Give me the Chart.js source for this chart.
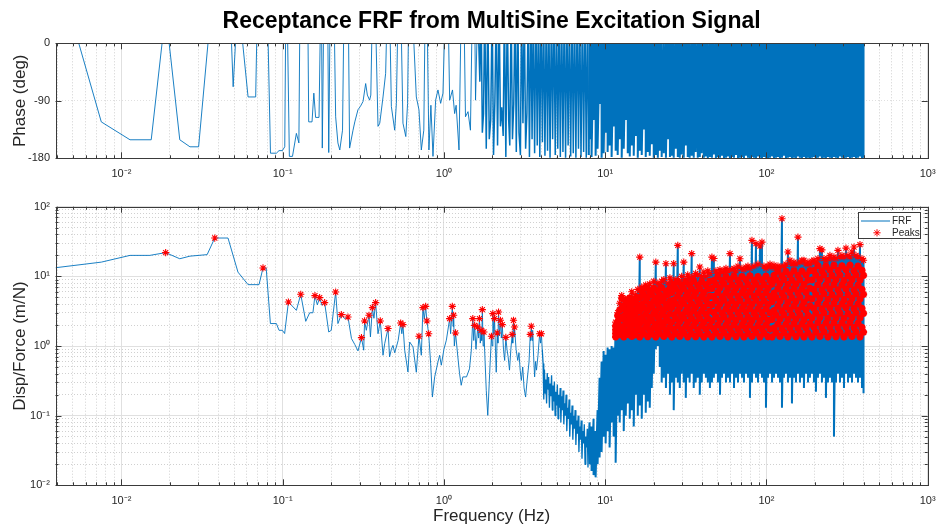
<!DOCTYPE html>
<html>
<head>
<meta charset="utf-8">
<title>Receptance FRF</title>
<script src="https://cdn.jsdelivr.net/npm/chart.js@4.4.1/dist/chart.umd.min.js"></script>
<style>
  html, body { margin: 0; padding: 0; background: #fff; }
  #wrap { position: relative; width: 936px; height: 531px; overflow: hidden; }
  canvas { position: absolute; left: 0; }
  #phaseChart { top: 0; }
  #magChart { top: 190px; }
</style>
</head>
<body>
<div id="wrap">
  <canvas id="phaseChart" width="936" height="190"></canvas>
  <canvas id="magChart" width="936" height="341"></canvas>
</div>
<script>
// ---------------------------------------------------------
// DATA
// ---------------------------------------------------------
const FREQ_MIN = 0.0039;
const FREQ_MAX = 1000;
const PEAK_MIN = 1.3;          // findpeaks height threshold (m/N)

const tickMantissas = [1, 2, 3, 4, 5, 6, 7, 8, 9];
const freqDecades = [0.001, 0.01, 0.1, 1, 10, 100];
const magDecades = [0.01, 0.1, 1, 10];
const phaseTicks = [-180, -90, 0];
const decadeValues = [0.01, 0.1, 1, 10, 100, 1000];
const decadeLabels = ['10⁻²', '10⁻¹', '10⁰', '10¹', '10²', '10³'];

// phase below 1.6 Hz [Hz, deg] (wraps above 0 are clipped)
const phaseSweep = [
  [0.0039,127],[0.0075,-123],[0.0113,-151],[0.0153,-151],[0.0188,50],[0.023,-151],[0.0266,-162],
  [0.0301,-162],[0.0379,117],[0.0458,145],[0.0493,-68],[0.0528,74],[0.061,-84],[0.068,-84],
  [0.0705,130],[0.0794,120],[0.084,-172],[0.0914,-172],[0.0949,-168],[0.0995,-168],[0.103,-162],
  [0.1046,60],[0.1065,60],[0.110,-177],[0.115,-177],[0.1216,-141],[0.126,-156],[0.128,60],
  [0.143,60],[0.145,-123],[0.152,-123],[0.156,-78],[0.16,-116],[0.168,-116],[0.172,60],[0.174,60],
  [0.176,-164],[0.18,60],[0.19,60],[0.193,-171],[0.197,60],[0.208,60],[0.213,-115],[0.22,-156],
  [0.226,-167],[0.235,-136],[0.24,60],[0.255,60],[0.26,-164],[0.273,-136],[0.28,-123],[0.293,-104],
  [0.303,-99],[0.315,-91],[0.327,-63],[0.335,-81],[0.346,-89],[0.352,-81],[0.36,60],[0.375,60],
  [0.39,-130],[0.40,-125],[0.419,-84],[0.435,-47],[0.445,60],[0.46,60],[0.472,-99],[0.495,-136],
  [0.507,-94],[0.52,60],[0.54,60],[0.557,-125],[0.58,-146],[0.595,-94],[0.605,60],[0.635,60],
  [0.674,-84],[0.70,-104],[0.724,-167],[0.75,-136],[0.765,60],[0.785,60],[0.807,-167],[0.83,-97],
  [0.855,-177],[0.888,-89],[0.918,-73],[0.954,-94],[0.986,-78],[1.02,60],[1.06,60],[1.085,-89],
  [1.13,-73],[1.165,-110],[1.19,-97],[1.24,-167],[1.28,60],[1.33,60],[1.36,-115],[1.41,-107],
  [1.46,-136],[1.50,60],[1.55,60],[1.57,-89],[1.62,60]
];
// phase 1.6-8 Hz, denser wrapping
const phaseMid = [
  [1.67,-60],[1.70,60],[1.73,-140],[1.76,-110],[1.79,60],[1.83,-165],[1.87,60],[1.91,-150],
  [1.95,-120],[1.99,60],[2.03,-175],[2.07,-90],[2.11,60],[2.15,-160],[2.2,60],[2.24,-130],
  [2.28,-100],[2.33,-145],[2.37,60],[2.42,-178],[2.47,60],[2.52,-120],[2.56,-160],[2.61,60],
  [2.66,-150],[2.71,-95],[2.76,60],[2.81,-170],[2.87,60],[2.92,-140],[2.98,-175],[3.03,60],
  [3.09,-125],[3.15,60],[3.21,-165],[3.27,-110],[3.33,60],[3.39,-178],[3.46,60],[3.52,-150],
  [3.58,60],[3.65,-172],[3.72,60],[3.79,-160],[3.86,60],[3.93,-178],[4.0,60],[4.08,-155],
  [4.15,60],[4.23,-176],[4.31,60],[4.39,-168],[4.47,60],[4.55,-179],[4.64,60],[4.72,-150],
  [4.81,60],[4.9,-175],[4.99,60],[5.08,-165],[5.18,60],[5.27,-178],[5.37,60],[5.47,-170],
  [5.57,60],[5.68,-179],[5.78,60],[5.89,-160],[6.0,60],[6.11,-177],[6.23,60],[6.34,-172],
  [6.46,60],[6.58,-179],[6.7,60],[6.83,-165],[6.95,60],[7.08,-178],[7.22,60],[7.35,-170],
  [7.49,60],[7.63,-179],[7.77,60],[7.9,-175]
];

// receptance magnitude below 4.1 Hz [Hz, m/N]
const magSweep = [
  [0.0039,13.3],[0.0075,16.0],[0.0113,20.0],[0.015,20.0],[0.0188,21.9],[0.023,17.9],[0.0266,19.5],
  [0.034,20.5],[0.0379,35.5],[0.0458,35.5],[0.0528,11.5],[0.061,7.6],[0.0713,7.6],[0.0755,13.2],
  [0.079,13.2],[0.0839,2.1],[0.0914,2.1],[0.0949,1.68],[0.0995,1.68],[0.1028,1.51],[0.1085,4.28],
  [0.1216,3.25],[0.1294,5.52],[0.139,2.26],[0.147,3.0],[0.154,3.0],[0.1585,5.29],[0.164,3.9],
  [0.1695,4.95],[0.175,3.84],[0.182,4.2],[0.193,1.59],[0.2,1.68],[0.213,5.96],[0.22,2.1],
  [0.231,2.82],[0.242,2.47],[0.254,2.61],[0.267,1.28],[0.28,1.05],[0.293,0.85],[0.308,1.32],
  [0.318,0.87],[0.322,2.29],[0.33,1.68],[0.343,2.76],[0.35,1.35],[0.36,3.56],[0.368,2.5],
  [0.377,4.2],[0.39,1.5],[0.403,2.29],[0.419,0.736],[0.429,1.08],[0.45,1.78],[0.46,0.695],
  [0.472,0.9],[0.483,1.02],[0.495,0.8],[0.507,0.97],[0.52,1.2],[0.539,2.14],[0.548,1.5],
  [0.557,2.03],[0.571,0.87],[0.598,0.424],[0.613,1.14],[0.643,0.97],[0.674,0.42],[0.70,1.38],
  [0.724,0.736],[0.741,3.56],[0.755,2.4],[0.77,3.71],[0.784,2.29],[0.804,1.5],[0.827,0.56],
  [0.848,0.185],[0.876,0.36],[0.918,0.59],[0.94,0.736],[0.963,0.53],[1.0,0.9],[1.035,1.21],
  [1.085,2.47],[1.10,1.5],[1.127,3.71],[1.14,1.9],[1.148,2.76],[1.16,1.0],[1.18,1.54],[1.22,0.695],
  [1.25,0.4],[1.28,0.273],[1.31,0.36],[1.38,0.36],[1.44,0.47],[1.48,0.9],[1.51,2.47],[1.53,1.2],
  [1.55,1.98],[1.58,0.9],[1.62,1.87],[1.64,1.3],[1.66,2.47],[1.68,1.1],[1.70,1.68],[1.715,1.2],
  [1.73,3.33],[1.75,1.0],[1.77,1.59],[1.80,0.6],[1.83,0.231],[1.87,0.101],[1.92,0.40],[1.97,1.38],
  [1.99,1.0],[2.01,2.92],[2.04,1.5],[2.06,2.47],[2.09,0.8],[2.11,0.42],[2.14,1.54],[2.16,1.1],
  [2.18,3.07],[2.21,1.4],[2.24,2.34],[2.27,1.3],[2.30,2.03],[2.34,0.9],[2.38,0.62],[2.42,1.33],
  [2.46,0.9],[2.50,0.7],[2.55,0.45],[2.60,0.9],[2.65,1.47],[2.67,1.1],[2.70,2.34],[2.72,1.4],
  [2.74,1.87],[2.80,0.9],[2.87,0.62],[2.92,0.8],[2.97,0.45],[3.02,0.32],[3.08,0.5],[3.14,0.25],
  [3.21,0.185],[3.27,0.3],[3.33,0.45],[3.37,0.59],[3.43,1.47],[3.45,1.2],[3.48,1.92],[3.52,1.2],
  [3.55,1.68],[3.60,0.7],[3.65,0.36],[3.70,0.6],[3.75,0.45],[3.83,0.736],[3.92,1.5],[3.97,1.1],
  [4.02,1.5],[4.07,0.9]
];
// 4.1-8 Hz anti-resonance trough
const magMid = [
  [4.12,0.56],[4.16,0.17],[4.2,0.46],[4.24,0.21],[4.28,0.33],[4.33,0.15],[4.37,0.41],[4.42,0.24],
  [4.46,0.36],[4.51,0.13],[4.55,0.29],[4.6,0.19],[4.65,0.38],[4.7,0.12],[4.74,0.27],[4.79,0.16],
  [4.84,0.31],[4.89,0.1],[4.94,0.22],[4.99,0.14],[5.05,0.28],[5.1,0.09],[5.15,0.2],[5.2,0.13],
  [5.26,0.25],[5.31,0.08],[5.37,0.19],[5.42,0.12],[5.48,0.23],[5.54,0.075],[5.6,0.15],[5.66,0.1],
  [5.72,0.2],[5.78,0.06],[5.84,0.13],[5.9,0.09],[5.97,0.17],[6.03,0.05],[6.1,0.11],[6.16,0.075],
  [6.23,0.14],[6.3,0.045],[6.37,0.1],[6.44,0.065],[6.51,0.12],[6.58,0.038],[6.65,0.085],[6.72,0.055],
  [6.8,0.1],[6.87,0.03],[6.95,0.07],[7.02,0.045],[7.1,0.085],[7.18,0.024],[7.26,0.06],[7.34,0.04],
  [7.42,0.075],[7.5,0.02],[7.58,0.05],[7.66,0.035],[7.74,0.065],[7.82,0.018],[7.9,0.045]
];

// peaks found below the multisine band [Hz, m/N]
const lowPeaks = [
  [0.0188,21.9],[0.0379,35.5],[0.0755,13.2],[0.1085,4.28],[0.1294,5.52],[0.1585,5.29],[0.1695,4.95],
  [0.182,4.2],[0.213,5.96],[0.231,2.82],[0.254,2.61],[0.308,1.32],[0.322,2.29],[0.343,2.76],
  [0.36,3.56],[0.377,4.2],[0.403,2.29],[0.45,1.78],[0.539,2.14],[0.557,2.03],[0.70,1.38],
  [0.741,3.56],[0.77,3.71],[0.784,2.29],[0.804,1.5],[1.085,2.47],[1.127,3.71],[1.148,2.76],
  [1.18,1.54],[1.51,2.47],[1.55,1.98],[1.62,1.87],[1.66,2.47],[1.70,1.68],[1.73,3.33],[1.77,1.59],
  [1.97,1.38],[2.01,2.92],[2.06,2.47],[2.14,1.54],[2.18,3.07],[2.24,2.34],[2.30,2.03],[2.42,1.33],
  [2.65,1.47],[2.70,2.34],[2.74,1.87],[3.43,1.47],[3.48,1.92],[3.92,1.5],[4.02,1.5]
];

// 8-400 Hz: excitation band, one min/max pair per display bin
const bandFreq = [
  8.00,8.23,8.47,8.72,8.97,9.23,9.50,9.78,10.06,10.35,
  10.65,10.96,11.28,11.61,11.95,12.30,12.66,13.03,13.41,13.80,
  14.20,14.61,15.03,15.47,15.92,16.38,16.85,17.34,17.84,18.36,
  18.89,19.44,20.0,20.6,21.2,21.8,22.4,23.1,23.8,24.5,
  25.2,25.9,26.6,27.4,28.2,29.0,29.8,30.7,31.6,32.5,
  33.4,34.4,35.4,36.4,37.5,38.6,39.7,40.9,42.1,43.3,
  44.6,45.9,47.2,48.6,50.0,51.5,53.0,54.5,56.1,57.7,
  59.4,61.1,62.9,64.7,66.6,68.5,70.5,72.5,74.6,76.8,
  79.0,81.3,83.7,86.1,88.6,91.2,93.8,96.5,99.3,102.2,
  105.2,108.3,111.4,114.6,117.9,121.3,124.8,128.4,132.1,135.9,
  139.8,143.9,148.1,152.4,156.8,161.3,166.0,170.8,175.8,180.9,
  186.1,191.5,197.0,202.7,208.6,214.6,220.8,227.2,233.8,240.6,
  247.6,254.8,262.2,269.8,277.6,285.7,294.0,302.5,311.3,320.3,
  329.6,339.2,349.0,359.1,369.5,380.2,391.2,400
];
const bandPhaseLo = [
  -150,-178,-120,-176,-165,-95,-179,-172,-140,-170,
  -160,-178,-130,-168,-175,-150,-179,-165,-120,-172,
  -177,-160,-176,-145,-179,-168,-175,-135,-178,-170,
  -176,-158,-179,-175,-179,-168,-178,-172,-179,-150,
  -178,-176,-179,-165,-178,-179,-174,-179,-160,-178,
  -179,-176,-179,-170,-179,-178,-172,-179,-177,-180,
  -178,-179,-174,-180,-178,-179,-176,-180,-179,-177,
  -180,-178,-179,-175,-180,-179,-178,-180,-176,-179,
  -180,-178,-179,-180,-177,-179,-180,-178,-179,-180,
  -179,-177,-180,-179,-178,-180,-179,-176,-180,-179,
  -178,-180,-179,-180,-177,-179,-180,-178,-180,-179,
  -180,-179,-178,-180,-179,-177,-180,-179,-180,-178,
  -179,-180,-178,-179,-180,-177,-179,-180,-179,-178,
  -180,-179,-178,-180,-179,-177,-180,-179
];
const bandMagHi = [
  0.08,0.07,0.09,0.06,0.12,0.35,0.6,0.85,0.75,0.95,0.9,1.0,0.95,
  2.2,3.0,4.1,5.3,3.5,4.5,4.8,4.2,6.0,5.0,5.5,6.5,18.9,7.0,6.2,7.5,6.8,7.8,6.5,8.5,
  16.0,8.0,7.5,8.5,9.0,15.2,8.0,9.5,8.5,15.2,9.0,27.8,8.1,10,16,9.0,10.5,9.5,21.2,10,
  11,10.5,13.6,10,11.5,10,12,11,18.9,18,12,11,12.5,11.5,12,13,12,21.2,12.5,13,
  12,14,17.9,13,12.5,13.5,14,13,32.9,14,29.5,15,27.3,31,14,13,14,15,13.5,14.5,
  13,14,13.6,67.3,14,15,22.4,17,15,16,15,36.6,16,17,17,15,16,15,16.5,17,
  16,18,25,24,18,17,18,20,18,19,18,23.6,19,20,19,25.4,20,19,22.4,26.4,20,19,28.5,18,17
];
const bandMagLo = [
  0.02,0.016,0.014,0.013,0.02,0.025,0.03,0.05,0.04,0.06,0.035,0.08,0.05,
  0.021,0.1,0.08,0.12,0.06,0.1,0.15,0.09,0.12,0.07,0.2,0.1,0.14,0.09,0.2,0.11,0.16,0.13,0.25,0.4,
  0.9,1.0,0.5,0.3,0.35,0.25,0.4,0.2,0.3,0.12,0.35,0.3,0.25,0.4,0.3,0.18,0.35,0.3,0.4,0.25,
  0.3,0.35,0.2,0.3,0.4,0.35,0.3,0.25,0.3,0.35,0.4,0.3,0.2,0.35,0.4,0.3,0.35,0.3,0.4,0.25,
  0.35,0.3,0.4,0.35,0.3,0.4,0.35,0.18,0.3,0.4,0.35,0.3,0.4,0.35,0.3,0.13,0.35,0.4,0.3,0.35,
  0.4,0.35,0.3,0.13,0.35,0.4,0.3,0.35,0.15,0.35,0.3,0.4,0.3,0.35,0.25,0.4,0.3,0.35,0.4,0.3,
  0.22,0.35,0.4,0.3,0.35,0.18,0.3,0.35,0.3,0.05,0.3,0.4,0.3,0.35,0.25,0.4,0.3,0.35,0.3,0.4,0.35,0.3,0.35,0.25,0.21
];

// further peaks inside each band bin (bins 13..137, 12.7-400 Hz), four per bin, low to high
const BAND_PEAK_START = 13;
const bandPeaks1 = [
  1.35,1.49,1.45,1.74,
  1.35,1.60,1.47,1.75,1.37,1.62,1.46,1.73,
  1.35,1.67,1.50,1.87,1.36,1.69,1.49,1.85,1.35,1.66,1.52,1.88,1.37,1.68,1.50,1.86,
  1.35,1.72,1.52,1.95,1.37,1.70,1.53,1.93,1.35,1.73,1.51,1.96,1.36,1.71,1.52,1.94,1.35,1.74,1.50,1.95,
  1.35,1.76,1.54,2.01,1.37,1.74,1.55,1.99,1.35,1.77,1.53,2.02,1.36,1.75,1.54,2.00,1.35,1.78,1.52,2.03,
  1.37,1.74,1.55,1.98,1.35,1.76,1.53,2.01,1.36,1.75,
  1.35,1.80,1.56,2.08,1.37,1.78,1.57,2.06,1.35,1.81,1.55,2.09,1.36,1.79,1.56,2.07,1.35,1.82,1.54,2.10,
  1.35,1.85,1.58,2.16,1.37,1.83,1.59,2.14,1.35,1.86,1.57,2.17,1.36,1.84,1.58,2.15,1.35,1.87,1.56,2.18,
  1.37,1.83,1.59,2.13,1.35,1.85,1.58
];
const bandPeaks2 = [
  1.52,1.82,1.91,2.44,
  1.91,2.26,2.08,2.47,1.94,2.24,2.10,2.45,
  2.08,2.58,2.31,2.87,2.10,2.55,2.33,2.90,2.06,2.60,2.29,2.85,2.09,2.57,2.32,2.88,
  2.20,2.81,2.49,3.17,2.23,2.78,2.51,3.14,2.18,2.84,2.47,3.20,2.21,2.80,2.50,3.16,2.19,2.83,2.48,3.18,
  2.30,3.01,2.64,3.44,2.33,2.97,2.67,3.40,2.28,3.04,2.61,3.47,2.31,2.99,2.65,3.42,2.27,3.06,2.62,3.48,
  2.32,2.98,2.66,3.41,2.29,3.02,2.63,3.45,2.31,3.00,
  2.41,3.23,2.79,3.73,2.44,3.19,2.82,3.69,2.39,3.26,2.77,3.76,2.42,3.21,2.80,3.71,2.38,3.28,2.76,3.78,
  2.53,3.46,2.96,4.05,2.56,3.42,2.99,4.00,2.50,3.50,2.93,4.09,2.54,3.44,2.97,4.03,2.49,3.52,2.92,4.11,
  2.55,3.43,2.98,4.02,2.52,3.47,2.95
];
const bandPeaks3 = [
  1.72,2.23,2.51,3.43,
  2.69,3.20,2.93,3.49,2.72,3.17,2.96,3.52,
  3.20,3.97,3.56,4.43,3.24,3.93,3.60,4.40,3.17,4.00,3.53,4.46,3.22,3.95,3.58,4.41,
  3.59,4.58,4.06,5.18,3.63,4.53,4.10,5.12,3.55,4.62,4.02,5.22,3.61,4.56,4.08,5.15,3.57,4.60,4.04,5.20,
  3.94,5.14,4.50,5.88,3.99,5.08,4.56,5.81,3.90,5.20,4.46,5.94,3.96,5.11,4.52,5.85,3.88,5.23,4.48,5.96,
  3.97,5.10,4.54,5.83,3.92,5.16,4.49,5.90,3.95,5.12,
  4.32,5.77,4.99,6.67,4.38,5.70,5.05,6.60,4.27,5.83,4.94,6.73,4.34,5.74,5.01,6.63,4.25,5.86,4.92,6.76,
  4.73,6.47,5.53,7.57,4.80,6.38,5.60,7.48,4.67,6.55,5.47,7.65,4.76,6.42,5.56,7.52,4.64,6.58,5.45,7.68,
  4.78,6.40,5.58,7.50,4.71,6.50,5.51
];
const bandPeaks4 = [
  1.95,2.73,3.31,4.82,
  3.80,4.52,4.14,4.93,3.85,4.48,4.18,4.90,
  4.93,6.11,5.48,6.81,4.98,6.05,5.52,6.75,4.88,6.15,5.44,6.86,4.95,6.08,5.50,6.78,
  5.86,7.48,6.62,8.45,5.92,7.40,6.68,8.36,5.80,7.55,6.57,8.52,5.89,7.45,6.65,8.40,5.83,7.52,6.60,8.48,
  6.72,8.79,7.69,10.0,6.80,8.68,7.78,9.90,6.65,8.88,7.62,10.1,6.76,8.72,7.73,9.95,6.62,8.92,7.65,10.2,
  6.78,8.70,7.75,9.92,6.70,8.82,7.68,10.05,6.74,8.75,
  7.72,10.3,8.93,11.9,7.82,10.2,9.02,11.8,7.64,10.4,8.85,12.0,7.76,10.25,8.97,11.85,7.60,10.45,8.82,12.1,
  8.86,12.1,10.4,14.2,8.98,12.0,10.5,14.0,8.75,12.3,10.3,14.4,8.90,12.05,10.45,14.1,8.70,12.4,10.25,14.5,
  8.95,12.0,10.5,14.05,8.82,12.2,10.35
];

// ---------------------------------------------------------
// STYLE
// ---------------------------------------------------------
const FONT = "'Liberation Sans', Arial, Helvetica, sans-serif";
const INK = '#262626';
const FRAME = '#3a3a3a';
const LINE_BLUE = '#0072BD';
const PEAK_RED = '#FF0000';
const GRID_MAJOR = '#e0e0e0';
const GRID_MINOR = '#d0d0d0';
const AXIS_LEFT = 55.5;
const AXIS_RIGHT_GAP = 8.3;

const isDecade = v => v > 0 && Math.abs(Math.log10(v) - Math.round(Math.log10(v))) < 1e-6;
const decadeLabel = v => {
  const i = decadeValues.findIndex(d => Math.abs(d - v) <= d * 1e-6);
  return i < 0 ? '' : decadeLabels[i];
};
const logTicks = (decades, lo, hi) => decades
  .flatMap(d => tickMantissas.map(m => +(m * d).toPrecision(6)))
  .filter(v => v >= lo && v <= hi);

const freqTicks = logTicks(freqDecades, FREQ_MIN, FREQ_MAX).concat([1000]);
const magTicks = logTicks(magDecades, 0.01, 100).concat([100]);

// ---------------------------------------------------------
// SERIES
// ---------------------------------------------------------
const toPoints = pairs => pairs.map(([x, y]) => ({ x, y }));
const last = arr => arr[arr.length - 1];

const phaseLow = toPoints(phaseSweep);
const phaseDense = [last(phaseLow), ...toPoints(phaseMid)];
const phaseBand = [last(phaseDense)];
bandFreq.forEach((f, i) => phaseBand.push({ x: f, y: 0 }, { x: f, y: bandPhaseLo[i] }));

const magLow = toPoints(magSweep);
const magDense = [last(magLow), ...toPoints(magMid)];
const magBand = [last(magDense)];
bandFreq.forEach((f, i) => magBand.push({ x: f, y: bandMagHi[i] }, { x: f, y: bandMagLo[i] }));

// isolated peaks and the tip of every band bin
const peaks = toPoints(lowPeaks);
bandFreq.forEach((f, i) => {
  if (bandMagHi[i] > PEAK_MIN) peaks.push({ x: f, y: bandMagHi[i] });
});
// the crowd of smaller peaks under the tips
const bandPeaks = [];
bandFreq.forEach((f, i) => {
  const j = i - BAND_PEAK_START;
  if (j < 0) return;
  [bandPeaks1[j], bandPeaks2[j], bandPeaks3[j], bandPeaks4[j]].forEach(v => {
    if (v !== undefined) bandPeaks.push({ x: f, y: v });
  });
});

// ---------------------------------------------------------
// PLUGINS
// ---------------------------------------------------------
// box round the axes with inward tick marks on all four sides
const axesFrame = {
  id: 'axesFrame',
  afterDatasetsDraw(chart) {
    const { ctx, chartArea: a } = chart;
    const xs = chart.scales.x, ys = chart.scales.y;
    ctx.save();
    ctx.strokeStyle = FRAME;
    ctx.lineWidth = 1;
    ctx.beginPath();
    xs.ticks.forEach(t => {
      const len = isDecade(t.value) ? 6 : 3;
      const px = Math.round(xs.getPixelForValue(t.value)) + 0.5;
      ctx.moveTo(px, a.bottom); ctx.lineTo(px, a.bottom - len);
      ctx.moveTo(px, a.top); ctx.lineTo(px, a.top + len);
    });
    ys.ticks.forEach(t => {
      const len = ys.type === 'logarithmic' && !isDecade(t.value) ? 3 : 6;
      const py = Math.round(ys.getPixelForValue(t.value)) + 0.5;
      ctx.moveTo(a.left, py); ctx.lineTo(a.left + len, py);
      ctx.moveTo(a.right, py); ctx.lineTo(a.right - len, py);
    });
    ctx.stroke();
    ctx.strokeRect(Math.round(a.left) + 0.5, Math.round(a.top) + 0.5,
      Math.round(a.right) - Math.round(a.left), Math.round(a.bottom) - Math.round(a.top));
    ctx.restore();
  }
};

// figure title centred over the axes, not the canvas
const axesTitle = {
  id: 'axesTitle',
  afterDraw(chart, args, opts) {
    if (!opts || !opts.text) return;
    const { ctx, chartArea: a } = chart;
    ctx.save();
    ctx.font = `bold ${opts.size}px ${FONT}`;
    ctx.fillStyle = '#000';
    ctx.textAlign = 'center';
    ctx.textBaseline = 'alphabetic';
    ctx.fillText(opts.text, (a.left + a.right) / 2, opts.baseline);
    ctx.restore();
  }
};

// MATLAB-style legend box in the upper right corner of the axes
const insetLegend = {
  id: 'insetLegend',
  afterDraw(chart) {
    const { ctx, chartArea: a } = chart;
    const line = chart.data.datasets.find(d => d.label === 'FRF');
    const marks = chart.data.datasets.find(d => d.label === 'Peaks');
    const w = 62, h = 26;
    const x = a.right - 7.7 - w, y = a.top + 5.6;
    ctx.save();
    ctx.fillStyle = '#fff';
    ctx.fillRect(x, y, w, h);
    ctx.strokeStyle = FRAME;
    ctx.lineWidth = 1;
    ctx.strokeRect(Math.round(x) + 0.5, Math.round(y) + 0.5, w, h);
    ctx.strokeStyle = line.borderColor;
    ctx.beginPath();
    ctx.moveTo(x + 3, y + 8.7); ctx.lineTo(x + 32, y + 8.7);
    ctx.stroke();
    ctx.strokeStyle = marks.pointBorderColor;
    Chart.helpers.drawPoint(ctx, {
      pointStyle: 'star', radius: marks.pointRadius, borderWidth: marks.pointBorderWidth
    }, x + 19, y + 20.5);
    ctx.fillStyle = INK;
    ctx.font = `10px ${FONT}`;
    ctx.textAlign = 'left';
    ctx.textBaseline = 'middle';
    ctx.fillText(line.label, x + 34, y + 9);
    ctx.fillText(marks.label, x + 34, y + 20.5);
    ctx.restore();
  }
};

// ---------------------------------------------------------
// AXES
// ---------------------------------------------------------
// keep end labels from shrinking the plot box
const noEdgePadding = s => { s.paddingLeft = 0; s.paddingRight = 0; s.paddingTop = 0; s.paddingBottom = 0; };

function freqAxis(height, title) {
  return {
    type: 'logarithmic',
    min: FREQ_MIN,
    max: FREQ_MAX,
    afterBuildTicks: s => { s.ticks = freqTicks.map(v => ({ value: v })); },
    afterFit: s => { s.height = height; noEdgePadding(s); },
    ticks: {
      autoSkip: false, maxRotation: 0, minRotation: 0, padding: 9.5,
      color: INK, font: { family: FONT, size: 11 },
      callback: v => decadeLabel(v)
    },
    grid: {
      drawTicks: false,
      color: c => (c.tick && isDecade(c.tick.value)) ? GRID_MAJOR : GRID_MINOR
    },
    border: {
      display: false,
      dash: c => (c.tick && isDecade(c.tick.value)) ? [] : [1, 2]
    },
    title: title ? {
      display: true, text: title, color: INK,
      font: { family: FONT, size: 17 }, padding: { top: 0, bottom: 4 }
    } : { display: false }
  };
}

const baseOptions = {
  responsive: false,
  animation: false,
  devicePixelRatio: 1,
  events: [],
  plugins: { legend: { display: false }, tooltip: { enabled: false } }
};

const lineStyle = (width, join) => ({
  borderColor: LINE_BLUE, borderWidth: width, pointRadius: 0,
  borderJoinStyle: join, clip: 0, order: 1
});
const starStyle = (width) => ({
  showLine: false, pointStyle: 'star', pointRadius: 3.6,
  pointBorderColor: PEAK_RED, pointBackgroundColor: PEAK_RED, pointBorderWidth: width, order: 0
});

// ---------------------------------------------------------
// PHASE
// ---------------------------------------------------------
new Chart(document.getElementById('phaseChart'), {
  type: 'line',
  data: {
    datasets: [
      { label: 'Phase', data: phaseLow, ...lineStyle(0.9, 'round') },
      { label: 'Phase 1.6-8 Hz', data: phaseDense, ...lineStyle(1.5, 'bevel') },
      { label: 'Phase band', data: phaseBand, ...lineStyle(2, 'bevel') }
    ]
  },
  options: {
    ...baseOptions,
    layout: { padding: { top: 43.3, right: AXIS_RIGHT_GAP, bottom: 0, left: 0 } },
    plugins: {
      ...baseOptions.plugins,
      axesTitle: { text: 'Receptance FRF from MultiSine Excitation Signal', size: 23, baseline: 28 }
    },
    scales: {
      x: freqAxis(31.7, null),
      y: {
        type: 'linear',
        min: -180,
        max: 0,
        afterBuildTicks: s => { s.ticks = phaseTicks.map(v => ({ value: v })); },
        afterFit: s => { s.width = AXIS_LEFT; noEdgePadding(s); },
        ticks: { color: INK, font: { family: FONT, size: 11 }, padding: 5.5, callback: v => String(v) },
        grid: { drawTicks: false, color: GRID_MAJOR },
        border: { display: false, dash: [1, 2] },
        title: {
          display: true, text: 'Phase (deg)', color: INK,
          font: { family: FONT, size: 17 }, padding: { top: 10, bottom: 0 }
        }
      }
    }
  },
  plugins: [axesFrame, axesTitle]
});

// ---------------------------------------------------------
// MAGNITUDE
// ---------------------------------------------------------
new Chart(document.getElementById('magChart'), {
  type: 'line',
  data: {
    datasets: [
      { label: 'Peaks', data: peaks, ...starStyle(1.1) },
      { label: 'Peaks in band', data: bandPeaks, ...starStyle(2.3) },
      { label: 'FRF', data: magLow, ...lineStyle(0.9, 'round') },
      { label: 'FRF 4-8 Hz', data: magDense, ...lineStyle(1.3, 'bevel') },
      { label: 'FRF band', data: magBand, ...lineStyle(2, 'bevel') }
    ]
  },
  options: {
    ...baseOptions,
    layout: { padding: { top: 16.7, right: AXIS_RIGHT_GAP, bottom: 0, left: 0 } },
    scales: {
      x: freqAxis(45.7, 'Frequency (Hz)'),
      y: {
        type: 'logarithmic',
        min: 0.01,
        max: 100,
        afterBuildTicks: s => { s.ticks = magTicks.map(v => ({ value: v })); },
        afterFit: s => { s.width = AXIS_LEFT; noEdgePadding(s); },
        ticks: {
          autoSkip: false, color: INK, font: { family: FONT, size: 11 }, padding: 5.5,
          callback: v => decadeLabel(v)
        },
        grid: {
          drawTicks: false,
          color: c => (c.tick && isDecade(c.tick.value)) ? GRID_MAJOR : GRID_MINOR
        },
        border: {
          display: false,
          dash: c => (c.tick && isDecade(c.tick.value)) ? [] : [1, 2]
        },
        title: {
          display: true, text: 'Disp/Force (m/N)', color: INK,
          font: { family: FONT, size: 17 }, padding: { top: 10, bottom: 0 }
        }
      }
    }
  },
  plugins: [axesFrame, insetLegend]
});
</script>
</body>
</html>
